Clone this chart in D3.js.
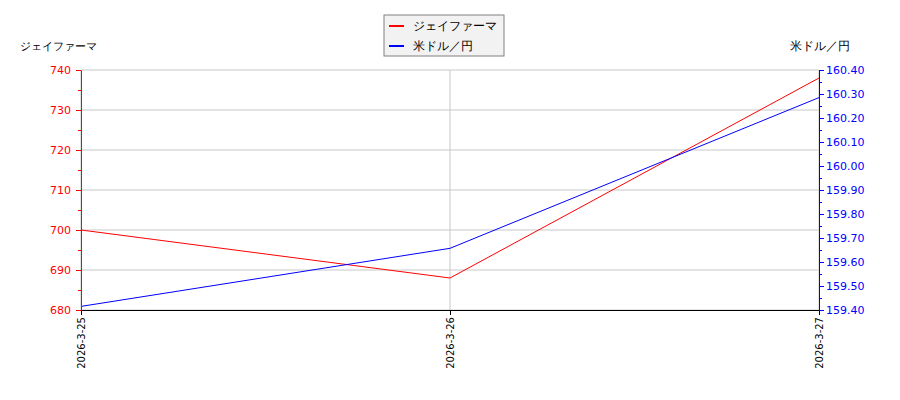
<!DOCTYPE html>
<html>
<head>
<meta charset="utf-8">
<script src="https://cdn.jsdelivr.net/npm/d3@7.9.0/dist/d3.min.js"></script>
<style>
  body { margin: 0; background: #fff; }
  text { font-family: "DejaVu Sans", sans-serif; }
</style>
</head>
<body>
<div id="chart"></div>
<script>
// data
const dates = ["2026-3-25", "2026-3-26", "2026-3-27"];
const stockValues = [700, 688, 738];
const fxValues = [159.415, 159.657, 160.285];
const leftTicks = [680, 690, 700, 710, 720, 730, 740];
const rightTicks = [159.4, 159.5, 159.6, 159.7, 159.8, 159.9, 160.0, 160.1, 160.2, 160.3, 160.4];
const stockName = "ジェイファーマ";
const fxName = "米ドル／円";

const width = 900;
const height = 400;
const margin = { top: 70, right: 81, bottom: 90, left: 81 };

const svg = d3.select("#chart")
    .append("svg")
    .attr("width", width)
    .attr("height", height);

const x = d3.scalePoint()
    .domain(dates)
    .range([margin.left, width - margin.right]);

const yLeft = d3.scaleLinear()
    .domain([680, 740])
    .range([height - margin.bottom, margin.top]);

const yRight = d3.scaleLinear()
    .domain([159.4, 160.4])
    .range([height - margin.bottom, margin.top]);

// gridlines
svg.append("g")
    .selectAll("line.h")
    .data(leftTicks)
    .join("line")
    .attr("x1", margin.left)
    .attr("x2", width - margin.right)
    .attr("y1", d => yLeft(d))
    .attr("y2", d => yLeft(d))
    .attr("stroke", "#c8c8c8")
    .attr("stroke-width", 1);

svg.append("g")
    .selectAll("line.v")
    .data(dates)
    .join("line")
    .attr("x1", d => x(d))
    .attr("x2", d => x(d))
    .attr("y1", margin.top)
    .attr("y2", height - margin.bottom)
    .attr("stroke", "#c8c8c8")
    .attr("stroke-width", 1);

// lines
const stockLine = d3.line()
    .x((d, i) => x(dates[i]))
    .y(d => yLeft(d));

const fxLine = d3.line()
    .x((d, i) => x(dates[i]))
    .y(d => yRight(d));

svg.append("path")
    .datum(stockValues)
    .attr("fill", "none")
    .attr("stroke", "red")
    .attr("stroke-width", 1)
    .attr("d", stockLine);

svg.append("path")
    .datum(fxValues)
    .attr("fill", "none")
    .attr("stroke", "blue")
    .attr("stroke-width", 1)
    .attr("d", fxLine);

// bottom axis
const xAxis = svg.append("g")
    .attr("transform", `translate(0,${height - margin.bottom})`)
    .call(d3.axisBottom(x).tickSize(5).tickSizeOuter(0));
xAxis.select(".domain").attr("stroke", "#000");
xAxis.selectAll("text")
    .attr("transform", "rotate(-90)")
    .attr("text-anchor", "end")
    .attr("x", -7)
    .attr("y", 0)
    .attr("dy", "0.35em")
    .attr("font-size", 10)
    .attr("fill", "#000");

// left axis, minor then major
svg.append("g")
    .attr("transform", `translate(${margin.left},0)`)
    .call(d3.axisLeft(yLeft).tickValues(d3.range(685, 740, 10)).tickSize(3).tickFormat("").tickSizeOuter(0))
    .call(g => g.selectAll("line").attr("stroke", "red"))
    .call(g => g.select(".domain").remove());

const leftAxis = svg.append("g")
    .attr("transform", `translate(${margin.left},0)`)
    .call(d3.axisLeft(yLeft).tickValues(leftTicks).tickSize(5).tickSizeOuter(0));
leftAxis.selectAll("line").attr("stroke", "red");
leftAxis.select(".domain").attr("stroke", "red");
leftAxis.selectAll("text")
    .attr("fill", "red")
    .attr("font-size", 11)
    .attr("x", -10);

// right axis
svg.append("g")
    .attr("transform", `translate(${width - margin.right},0)`)
    .call(d3.axisRight(yRight).tickValues(d3.range(0, 10).map(i => 159.45 + i * 0.1)).tickSize(3).tickFormat("").tickSizeOuter(0))
    .call(g => g.selectAll("line").attr("stroke", "blue"))
    .call(g => g.select(".domain").remove());

const rightAxis = svg.append("g")
    .attr("transform", `translate(${width - margin.right},0)`)
    .call(d3.axisRight(yRight).tickValues(rightTicks).tickSize(5).tickSizeOuter(0).tickFormat(d3.format(".2f")));
rightAxis.selectAll("line").attr("stroke", "blue");
rightAxis.select(".domain").attr("stroke", "blue");
rightAxis.selectAll("text")
    .attr("fill", "blue")
    .attr("font-size", 11)
    .attr("x", 7);

// axis titles
svg.append("text")
    .attr("x", 20)
    .attr("y", 50)
    .attr("font-size", 11)
    .attr("fill", "#000")
    .text(stockName);

svg.append("text")
    .attr("x", 850)
    .attr("y", 50)
    .attr("text-anchor", "end")
    .attr("font-size", 11.5)
    .attr("fill", "#000")
    .text(fxName);

// legend
const legend = svg.append("g").attr("transform", "translate(384,15)");
legend.append("rect")
    .attr("width", 120)
    .attr("height", 41)
    .attr("fill", "#f2f2f2")
    .attr("stroke", "#808080")
    .attr("stroke-width", 1);

const legendItems = [
    { name: stockName, color: "red" },
    { name: fxName, color: "blue" }
];
legendItems.forEach((item, i) => {
    const yy = 11 + i * 20;
    legend.append("line")
        .attr("x1", 5).attr("x2", 20)
        .attr("y1", yy).attr("y2", yy)
        .attr("stroke", item.color)
        .attr("stroke-width", 2);
    legend.append("text")
        .attr("x", 29)
        .attr("y", yy)
        .attr("dy", "0.35em")
        .attr("font-size", 12)
        .attr("fill", "#000")
        .text(item.name);
});
</script>
</body>
</html>
